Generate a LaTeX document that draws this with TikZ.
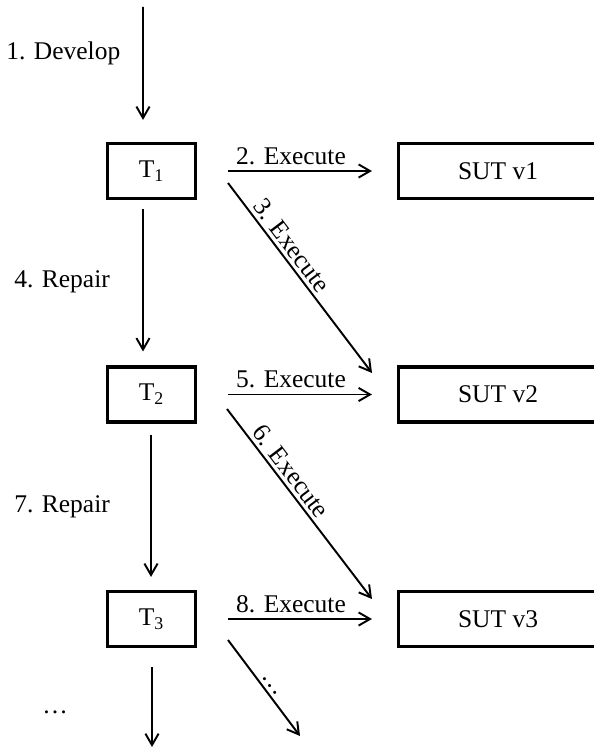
\documentclass[tikz,border=0pt]{standalone}
\usepackage{fontspec}
\setmainfont{Liberation Serif}
\usetikzlibrary{arrows.meta}

\begin{document}
\begin{tikzpicture}[x=0.02cm,y=-0.02cm,font=\fontsize{14.5pt}{17pt}\selectfont,
    tbox/.style={draw,line width=1.8pt,minimum width=1.76cm,minimum height=1.1cm,inner sep=0pt},
    sbox/.style={tbox,minimum width=3.98cm},
    arr/.style={-{Straight Barb[length=6.5pt,width=7.5pt]},line width=1.1pt},
    hlab/.style={above,inner sep=3pt,pos=0.47},
    dlab/.style={sloped,above,inner sep=2pt,pos=0.37}]
        \useasboundingbox(0,0)rectangle(593,749);
        % tests
        \node[tbox](T1)at(151.5,171){T\textsubscript{1}};
        \node[tbox](T2)at(151.5,394.5){T\textsubscript{2}};
        \node[tbox](T3)at(151.5,619){T\textsubscript{3}};
        % versions (cut off at the right edge)
        \node[sbox](S1)at(498,171){SUT v1};
        \node[sbox](S2)at(498,394.5){SUT v2};
        \node[sbox](S3)at(498,619){SUT v3};
        % free ends
        \coordinate(top)at(143,7);
        \coordinate(bot)at(152,747);
        \coordinate(a1)at(228,183);
        \coordinate(b1)at(372,373);
        \coordinate(a2)at(227,409);
        \coordinate(b2)at(372,599);
        \coordinate(a3)at(228,640);
        \coordinate(b3)at(300,736);
        % develop / repair
        \draw[arr,shorten >=0.44cm](top)to([xshift=-0.17cm]T1.north);
        \draw[arr,shorten <=0.18cm,shorten >=0.28cm]([xshift=-0.17cm]T1.south)to([xshift=-0.17cm]T2.north);
        \draw[arr,shorten <=0.22cm,shorten >=0.26cm]([xshift=-0.01cm]T2.south)to([xshift=-0.01cm]T3.north);
        \draw[arr,shorten <=0.38cm]([xshift=0.01cm]T3.south)to(bot);
        \node[anchor=west,inner sep=0pt](dev)at(6,53){1. Develop};
        \node[anchor=west,inner sep=0pt](rep1)at(14,282){4. Repair};
        \node[anchor=west,inner sep=0pt](rep2)at(14,507){7. Repair};
        \node[anchor=base,inner sep=0pt](more)at(55,713){\dots};
        % execute
        \draw[arr,shorten <=0.62cm,shorten >=0.5cm](T1)to node[hlab]{2. Execute}(S1);
        \draw[arr,shorten <=0.62cm,shorten >=0.5cm](T2)to node[hlab]{5. Execute}(S2);
        \draw[arr,shorten <=0.62cm,shorten >=0.5cm](T3)to node[hlab]{8. Execute}(S3);
        \draw[arr](a1)to node[dlab]{3. Execute}(b1);
        \draw[arr](a2)to node[dlab]{6. Execute}(b2);
        \draw[arr](a3)to node[dlab,pos=0.52]{\dots}(b3);
\end{tikzpicture}
\end{document}
